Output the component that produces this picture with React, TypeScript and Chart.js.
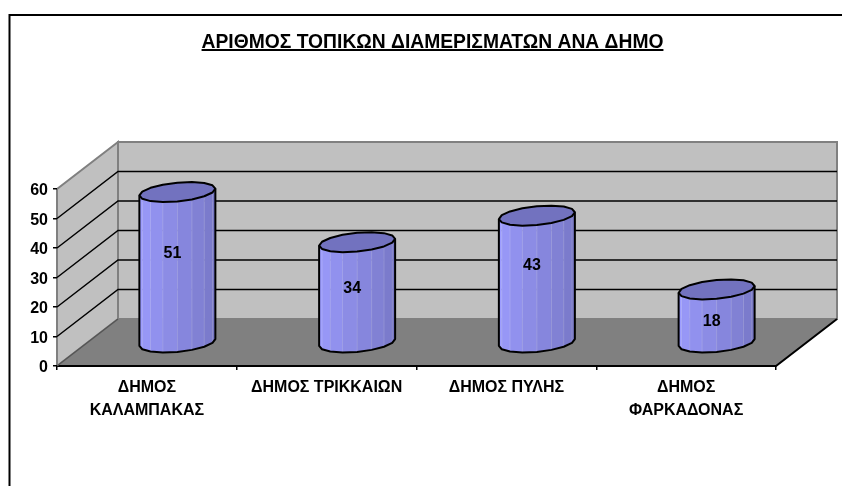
import React, { useEffect, useRef } from "react";
import { Chart, registerables } from "chart.js";

Chart.register(...registerables);

const titleText = "ΑΡΙΘΜΟΣ ΤΟΠΙΚΩΝ ΔΙΑΜΕΡΙΣΜΑΤΩΝ ΑΝΑ ΔΗΜΟ";
const categories: (string | string[])[] = [
  ["ΔΗΜΟΣ", "ΚΑΛΑΜΠΑΚΑΣ"],
  "ΔΗΜΟΣ ΤΡΙΚΚΑΙΩΝ",
  "ΔΗΜΟΣ ΠΥΛΗΣ",
  ["ΔΗΜΟΣ", "ΦΑΡΚΑΔΟΝΑΣ"],
];
const values = [51, 34, 43, 18];
const yTicks = [0, 10, 20, 30, 40, 50, 60];

const FONT = '"Liberation Sans", Arial, sans-serif';
const DEPTH_X = 61;
const DEPTH_Y = 47;
const WALL = "#C0C0C0";
const FLOOR = "#808080";
const EDGE = "#808080";

function poly(ctx: CanvasRenderingContext2D, pts: number[][]) {
  ctx.beginPath();
  pts.forEach((p, i) => (i ? ctx.lineTo(p[0], p[1]) : ctx.moveTo(p[0], p[1])));
  ctx.closePath();
}

const scene = {
  id: "scene",
  beforeDraw(chart: any) {
    const { ctx, chartArea: a, scales } = chart;
    const { left: L, right: R, top: T, bottom: B } = a;
    ctx.save();
    ctx.fillStyle = "#fff";
    ctx.fillRect(0, 0, chart.width, chart.height);
    // outer frame
    ctx.strokeStyle = "#000";
    ctx.lineWidth = 2;
    ctx.beginPath();
    ctx.moveTo(9.5, chart.height);
    ctx.lineTo(9.5, 15);
    ctx.lineTo(chart.width, 15);
    ctx.stroke();
    // title
    ctx.fillStyle = "#000";
    ctx.font = `bold 19.3px ${FONT}`;
    ctx.textAlign = "center";
    ctx.textBaseline = "alphabetic";
    ctx.fillText(titleText, 432.5, 48);
    const w = ctx.measureText(titleText).width;
    ctx.fillRect(432.5 - w / 2, 49, w, 2);
    // walls
    const bx = DEPTH_X, by = DEPTH_Y;
    ctx.lineWidth = 2;
    ctx.strokeStyle = EDGE;
    ctx.fillStyle = WALL;
    poly(ctx, [[L, T], [L + bx, T - by], [L + bx, B - by], [L, B]]);
    ctx.fill();
    ctx.stroke();
    poly(ctx, [[L + bx, T - by], [R + bx, T - by], [R + bx, B - by], [L + bx, B - by]]);
    ctx.fill();
    ctx.stroke();
    // floor
    ctx.fillStyle = FLOOR;
    poly(ctx, [[L, B], [R, B], [R + bx, B - by], [L + bx, B - by]]);
    ctx.fill();
    // gridlines
    ctx.strokeStyle = "#000";
    ctx.lineWidth = 1.5;
    for (const t of scales.y.ticks) {
      if (t.value === 0 || t.value === 60) continue;
      const y = scales.y.getPixelForValue(t.value);
      ctx.beginPath();
      ctx.moveTo(L, y);
      ctx.lineTo(L + bx, y - by);
      ctx.lineTo(R + bx, y - by);
      ctx.stroke();
    }
    // floor edges
    ctx.lineWidth = 2;
    ctx.beginPath();
    ctx.moveTo(L, B);
    ctx.lineTo(R, B);
    ctx.lineTo(R + bx, B - by);
    ctx.stroke();
    ctx.lineWidth = 1.5;
    ctx.strokeStyle = "#555";
    ctx.beginPath();
    ctx.moveTo(L, B);
    ctx.lineTo(L + bx, B - by);
    ctx.stroke();
    ctx.restore();
  },
  afterDatasetsDraw(chart: any) {
    const { ctx, scales } = chart;
    const meta = chart.getDatasetMeta(0);
    const zero = scales.y.getPixelForValue(0);
    const RXA = 35.7, RXB = 13, RY = 10;
    const N = 16;
    const t0 = (200 * Math.PI) / 180;
    const labelNudge = [0, 0, -5, 0];
    const pt = (cx: number, cy: number, t: number) => [
      cx + RXA * Math.cos(t) + RXB * Math.sin(t),
      cy - RY * Math.sin(t),
    ];
    ctx.save();
    meta.data.forEach((bar: any, i: number) => {
      const cx = bar.x + DEPTH_X / 2;
      const base = zero - DEPTH_Y / 2;
      const top = bar.y - DEPTH_Y / 2;
      // facets
      for (let k = 0; k < N / 2; k++) {
        const a1 = t0 + (k * 2 * Math.PI) / N;
        const a2 = t0 + ((k + 1) * 2 * Math.PI) / N;
        const f = k / (N / 2 - 1);
        const r = Math.round(156 - f * 38);
        const g = Math.round(156 - f * 38);
        const b = Math.round(255 - f * 60);
        ctx.fillStyle = `rgb(${r},${g},${b})`;
        ctx.strokeStyle = ctx.fillStyle;
        ctx.lineWidth = 0.6;
        poly(ctx, [pt(cx, top, a1), pt(cx, top, a2), pt(cx, base, a2), pt(cx, base, a1)]);
        ctx.fill();
        ctx.stroke();
        if (k > 0) {
          const p = pt(cx, top, a1);
          const q = pt(cx, base, a1);
          ctx.strokeStyle = "rgba(255,255,255,0.18)";
          ctx.lineWidth = 1;
          ctx.beginPath();
          ctx.moveTo(p[0], p[1]);
          ctx.lineTo(q[0], q[1]);
          ctx.stroke();
        }
      }
      // body outline
      ctx.strokeStyle = "#000";
      ctx.lineWidth = 2;
      ctx.lineJoin = "round";
      const lower: number[][] = [];
      for (let k = 0; k <= N / 2; k++) lower.push(pt(cx, base, t0 + (k * 2 * Math.PI) / N));
      ctx.beginPath();
      ctx.moveTo(...(pt(cx, top, t0) as [number, number]));
      lower.forEach((p) => ctx.lineTo(p[0], p[1]));
      ctx.lineTo(...(pt(cx, top, t0 + Math.PI) as [number, number]));
      ctx.stroke();
      // top cap
      const cap: number[][] = [];
      for (let k = 0; k < N; k++) cap.push(pt(cx, top, t0 + (k * 2 * Math.PI) / N));
      poly(ctx, cap);
      ctx.fillStyle = "#7272BF";
      ctx.fill();
      ctx.stroke();
      // value label
      ctx.fillStyle = "#000";
      ctx.font = `bold 16px ${FONT}`;
      ctx.textAlign = "center";
      ctx.textBaseline = "middle";
      ctx.fillText(
        String(values[i]),
        cx - 5,
        scales.y.getPixelForValue(values[i] * 0.7) - 7 + labelNudge[i]
      );
    });
    ctx.restore();
  },
};

export default function App() {
  const ref = useRef<HTMLCanvasElement>(null);
  useEffect(() => {
    const chart = new Chart(ref.current as HTMLCanvasElement, {
      type: "bar",
      data: {
        labels: categories as any,
        datasets: [
          { data: values, backgroundColor: "rgba(0,0,0,0)", borderWidth: 0 },
        ],
      },
      options: {
        animation: false,
        responsive: false,
        layout: { padding: { left: 0, top: 189, right: 66, bottom: 0 } },
        plugins: {
          legend: { display: false },
          title: { display: false },
          tooltip: { enabled: false },
        },
        scales: {
          x: {
            offset: true,
            afterFit: (s: any) => { s.height = 120; },
            grid: {
              offset: true,
              drawOnChartArea: false,
              drawTicks: true,
              tickLength: 4,
              color: "#000",
              lineWidth: 1.5,
            },
            border: { display: false },
            ticks: {
              color: "#000",
              padding: 7,
              maxRotation: 0,
              autoSkip: false,
              font: { family: FONT, size: 16, weight: "bold", lineHeight: 1.38 },
            },
          },
          y: {
            min: 0,
            max: 60,
            afterFit: (s: any) => { s.width = 57; },
            afterBuildTicks: (s: any) => { s.ticks = yTicks.map((value) => ({ value })); },
            grid: {
              drawOnChartArea: false,
              drawTicks: true,
              tickLength: 4,
              color: "#000",
              lineWidth: 1.5,
            },
            border: { display: false },
            ticks: {
              color: "#000",
              padding: 5,
              labelOffset: 2,
              font: { family: FONT, size: 16, weight: "bold" },
            },
          },
        },
      } as any,
      plugins: [scene],
    });
    return () => chart.destroy();
  }, []);
  return (
    <canvas
      ref={ref}
      width={842}
      height={486}
      style={{ position: "absolute", left: 0, top: 0, display: "block" }}
    />
  );
}
